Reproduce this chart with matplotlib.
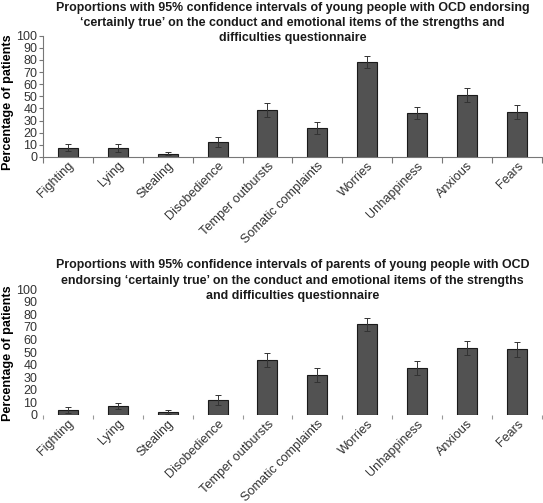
import numpy as np
import matplotlib
matplotlib.use("Agg")
import matplotlib.pyplot as plt

plt.rcParams['font.family'] = ['Liberation Sans', 'DejaVu Sans']

items = ['Fighting', 'Lying', 'Stealing', 'Disobedience', 'Temper outbursts',
         'Somatic complaints', 'Worries', 'Unhappiness', 'Anxious', 'Fears']

# young people (self report)
young_pct = [7.4, 7.4, 2.7, 12.5, 38.7, 24.0, 78.3, 36.2, 50.8, 37.2]
young_err = [2.9, 3.3, 1.5, 4.0, 5.6, 4.8, 4.6, 4.8, 5.8, 5.7]

# parents
parent_pct = [4.2, 6.9, 2.1, 11.9, 43.9, 31.7, 72.0, 37.3, 53.2, 52.1]
parent_err = [2.4, 2.4, 1.5, 3.7, 5.7, 5.6, 5.0, 5.3, 5.5, 5.6]

titles = [
    "Proportions with 95% confidence intervals of young people with OCD endorsing\n"
    "\u2018certainly true\u2019 on the conduct and emotional items of the strengths and\n"
    "difficulties questionnaire",
    "Proportions with 95% confidence intervals of parents of young people with OCD\n"
    "endorsing \u2018certainly true\u2019 on the conduct and emotional items of the strengths\n"
    "and difficulties questionnaire",
]

narrow = ['Liberation Sans Narrow', 'Liberation Sans']

fig = plt.figure(figsize=(5.43, 5.03), dpi=100)
ax1 = fig.add_axes([0.079, 0.688, 0.919, 0.241])
ax2 = fig.add_axes([0.079, 0.175, 0.919, 0.25])

bar_col = '#525252'
x = np.arange(len(items))

for ax, vals, errs in [(ax1, young_pct, young_err), (ax2, parent_pct, parent_err)]:
    ax.bar(x, vals, width=0.4, color=bar_col, edgecolor='#1a1a1a', linewidth=0.8,
           yerr=errs, error_kw=dict(ecolor='#333333', elinewidth=0.7, capsize=2.5, capthick=0.7))
    ax.set_xlim(-0.5, len(items) - 0.5)
    ax.set_ylim(0, 100)
    ax.set_yticks(np.arange(0, 101, 10))
    ax.set_yticklabels([str(v) for v in range(0, 101, 10)], family=narrow,
                       fontsize=9, color='#333333')
    ax.set_xticks(x)
    ax.set_xticklabels(items, rotation=45, ha='right', rotation_mode='anchor',
                       fontsize=9.1, color='#333333')
    ax.set_xticks(np.arange(-0.5, len(items), 1), minor=True)
    ax.tick_params(axis='x', which='major', length=0, pad=2)
    ax.tick_params(axis='y', pad=1)
    ax.set_ylabel('Percentage of patients', fontsize=9.1, fontweight='bold')
    for s in ['top', 'right']:
        ax.spines[s].set_visible(False)

ax1.yaxis.set_label_coords(-0.057, 0.453)
ax2.yaxis.set_label_coords(-0.057, 0.49)

# top panel: gray axis lines with ticks between categories
for s in ['left', 'bottom']:
    ax1.spines[s].set_color('#777777')
    ax1.spines[s].set_linewidth(0.8)
ax1.tick_params(axis='x', which='minor', length=4, color='#777777', width=0.8)
ax1.tick_params(axis='y', length=3, color='#777777', width=0.8)

# bottom panel: no axis lines, only small marks
ax2.spines['left'].set_visible(False)
ax2.spines['bottom'].set_visible(False)
ax2.tick_params(axis='x', which='minor', length=3, color='#999999', width=0.8, direction='out')
ax2.tick_params(axis='y', length=0, pad=4)

fig.text(0.539, 0.954, titles[0], ha='center', va='center', fontsize=8.9,
         fontweight='bold', linespacing=1.3, color='#1a1a1a')
fig.text(0.539, 0.442, titles[1], ha='center', va='center', fontsize=8.9,
         fontweight='bold', linespacing=1.38, color='#1a1a1a')

fig.savefig('out.png', dpi=100)
